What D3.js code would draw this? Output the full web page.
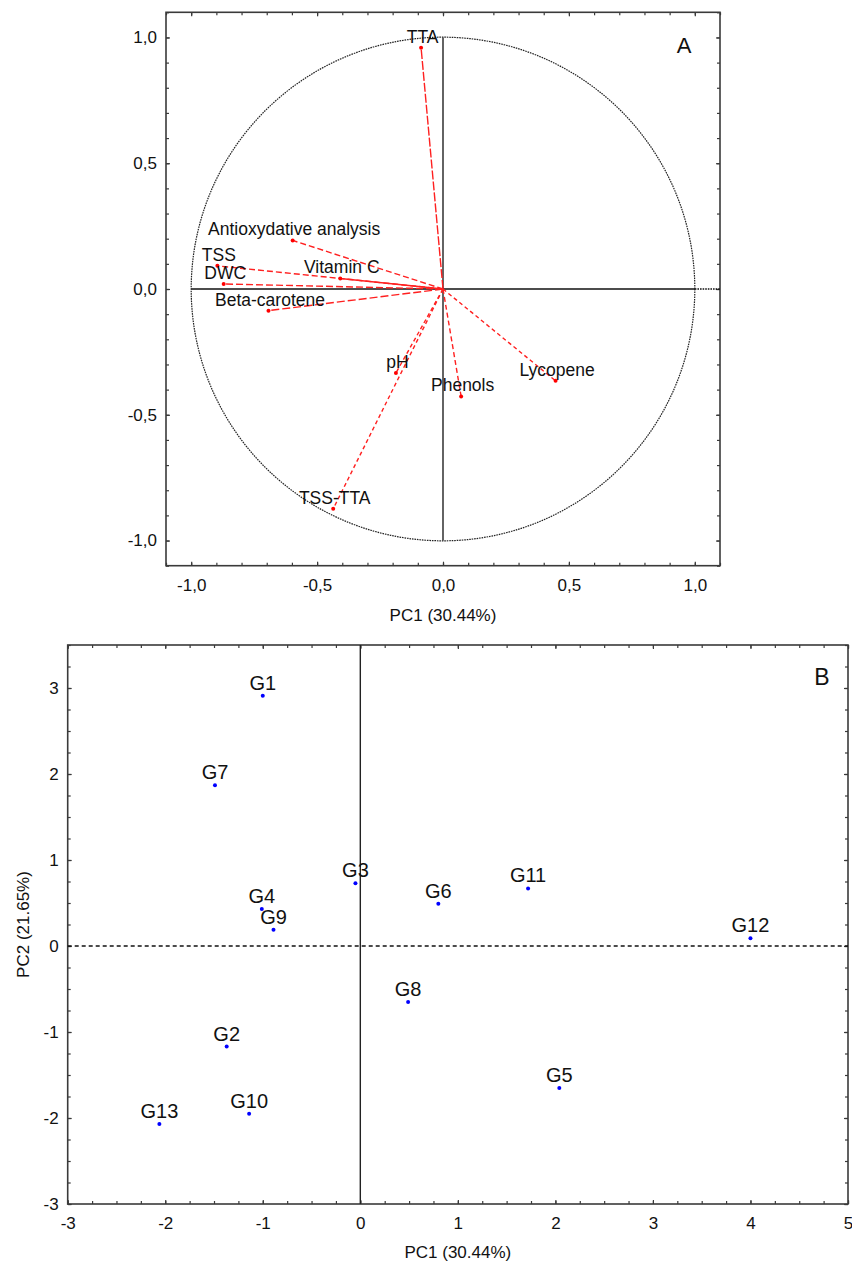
<!DOCTYPE html>
<html><head><meta charset="utf-8">
<script src="https://cdn.jsdelivr.net/npm/d3@7"></script>
<style>
body{margin:0;background:#fff}
text{font-family:"Liberation Sans",Arial,sans-serif;fill:#111}
</style>
</head><body>
<svg id="c" width="852" height="1264"></svg>
<script>
// ---------- DATA ----------
// Panel A: variable loadings
const varNames = ["TTA","Antioxydative analysis","TSS","DWC","Vitamin C","Beta-carotene","pH","Phenols","Lycopene","TSS-TTA"];
const pc1Load  = [-0.087, -0.597, -0.896, -0.871, -0.408, -0.693, -0.187, 0.072, 0.447, -0.436];
const pc2Load  = [ 0.959,  0.193,  0.092,  0.020,  0.042, -0.086, -0.334, -0.427, -0.365, -0.874];
// Panel B: genotype scores
const genotypes = ["G1","G7","G3","G4","G9","G6","G11","G12","G8","G2","G10","G13","G5"];
const pc1Score  = [-1.00, -1.49, -0.05, -1.01, -0.89, 0.80, 1.72, 4.00, 0.49, -1.37, -1.14, -2.06, 2.04];
const pc2Score  = [ 2.91,  1.87,  0.73,  0.43,  0.19, 0.49, 0.67, 0.09, -0.65, -1.17, -1.95, -2.07, -1.65];
// Ticks / labels
const ticksA = [-1, -0.5, 0, 0.5, 1];
const tickLabelsA = ["-1,0", "-0,5", "0,0", "0,5", "1,0"];
const ticksBx = [-3, -2, -1, 0, 1, 2, 3, 4, 5];
const ticksBy = [-3, -2, -1, 0, 1, 2, 3];
const titlePC1 = "PC1 (30.44%)";
const titlePC2 = "PC2 (21.65%)";
const panelA = "A", panelB = "B";

// ---------- STYLES ----------
const dashStyle = {"TTA":"9,2","Antioxydative analysis":"6,3","TSS":"6,3","DWC":"7,3","Vitamin C":null,
  "Beta-carotene":"8,3","pH":"4,3","Phenols":"5,3","Lycopene":"4,3","TSS-TTA":"4,3"};

const svg = d3.select("#c");
const frameColor = "#3a3a3a";
const plainFmt = d => String(d);

function frameAxes(g, x, y, xTicks, yTicks, xMinor, yMinor, xFmt, yFmt) {
  const [x0, x1] = x.range(), [y0, y1] = y.range();
  const minorLen = 3, majorLen = 4;
  g.append("g").attr("transform", `translate(0,${y0})`)
    .call(d3.axisBottom(x).tickValues(xMinor).tickSize(-minorLen).tickFormat(""))
    .call(a => a.select(".domain").remove());
  g.append("g").attr("transform", `translate(0,${y1})`)
    .call(d3.axisTop(x).tickValues(xMinor).tickSize(-minorLen).tickFormat(""))
    .call(a => a.select(".domain").remove());
  g.append("g").attr("transform", `translate(${x0},0)`)
    .call(d3.axisLeft(y).tickValues(yMinor).tickSize(-minorLen).tickFormat(""))
    .call(a => a.select(".domain").remove());
  g.append("g").attr("transform", `translate(${x1},0)`)
    .call(d3.axisRight(y).tickValues(yMinor).tickSize(-minorLen).tickFormat(""))
    .call(a => a.select(".domain").remove());
  g.append("g").attr("transform", `translate(0,${y0})`)
    .call(d3.axisBottom(x).tickValues(xTicks).tickSize(-majorLen).tickPadding(13).tickFormat(xFmt))
    .call(a => a.select(".domain").remove())
    .call(a => a.selectAll("text").style("font-size", "17px").attr("fill", "#111"));
  g.append("g").attr("transform", `translate(${x0},0)`)
    .call(d3.axisLeft(y).tickValues(yTicks).tickSize(-majorLen).tickPadding(9).tickFormat(yFmt))
    .call(a => a.select(".domain").remove())
    .call(a => a.selectAll("text").style("font-size", "17px").attr("fill", "#111"));
  g.append("g").attr("transform", `translate(0,${y1})`)
    .call(d3.axisTop(x).tickValues(xTicks).tickSize(-majorLen).tickFormat(""))
    .call(a => a.select(".domain").remove());
  g.append("g").attr("transform", `translate(${x1},0)`)
    .call(d3.axisRight(y).tickValues(yTicks).tickSize(-majorLen).tickFormat(""))
    .call(a => a.select(".domain").remove());
  g.selectAll(".tick line").attr("stroke", frameColor).attr("stroke-width", 1.2);
  g.append("rect").attr("x", x0).attr("y", y1).attr("width", x1 - x0).attr("height", y0 - y1)
    .attr("fill", "none").attr("stroke", frameColor).attr("stroke-width", 1.6);
}

// ---------- PANEL A ----------
const xA = d3.scaleLinear().domain([-1.1, 1.1]).range([166, 720]);
const yA = d3.scaleLinear().domain([-1.1, 1.1]).range([565.7, 12.3]);
const gA = svg.append("g");
const minorA = d3.range(-11, 12).map(d => d / 10);
frameAxes(gA, xA, yA, ticksA, ticksA, minorA, minorA,
  (d) => tickLabelsA[ticksA.indexOf(d)], (d) => tickLabelsA[ticksA.indexOf(d)]);

const rPx = xA(1) - xA(0);
gA.append("circle").attr("cx", xA(0)).attr("cy", yA(0)).attr("r", rPx)
  .attr("fill", "none").attr("stroke", "#222").attr("stroke-width", 1.2).attr("stroke-dasharray", "1.6,0.9");
gA.append("line").attr("x1", xA(-1)).attr("x2", xA(1)).attr("y1", yA(0)).attr("y2", yA(0))
  .attr("stroke", "#111").attr("stroke-width", 1.4);
gA.append("line").attr("x1", xA(1)).attr("x2", xA(1.1)).attr("y1", yA(0)).attr("y2", yA(0))
  .attr("stroke", "#111").attr("stroke-width", 1.3).attr("stroke-dasharray", "1.6,1");
gA.append("line").attr("x1", xA(0)).attr("x2", xA(0)).attr("y1", yA(-1)).attr("y2", yA(1))
  .attr("stroke", "#222").attr("stroke-width", 1.4);

const loadData = varNames.map((n, i) => ({name: n, x: pc1Load[i], y: pc2Load[i]}));
gA.selectAll("line.vec").data(loadData).join("line").attr("class", "vec")
  .attr("x1", xA(0)).attr("y1", yA(0)).attr("x2", d => xA(d.x)).attr("y2", d => yA(d.y))
  .attr("stroke", "#ff2020").attr("stroke-width", 1.4)
  .attr("stroke-dasharray", d => dashStyle[d.name]);
gA.selectAll("circle.pt").data(loadData).join("circle").attr("class", "pt")
  .attr("cx", d => xA(d.x)).attr("cy", d => yA(d.y)).attr("r", 2).attr("fill", "#ff0000");
gA.selectAll("text.lab").data(loadData).join("text").attr("class", "lab")
  .attr("x", d => xA(d.x) + 1.5).attr("y", d => yA(d.y) - 5)
  .attr("text-anchor", "middle").style("font-size", "17.5px").text(d => d.name);

gA.append("text").attr("x", 684).attr("y", 53).attr("text-anchor", "middle")
  .style("font-size", "22px").text(panelA);
gA.append("text").attr("x", (xA.range()[0] + xA.range()[1]) / 2).attr("y", 621)
  .attr("text-anchor", "middle").style("font-size", "17px").text(titlePC1);

// ---------- PANEL B ----------
const xB = d3.scaleLinear().domain([-3, 5]).range([67.7, 848]);
const yB = d3.scaleLinear().domain([-3, 3.5]).range([1204, 645]);
const gB = svg.append("g");
frameAxes(gB, xB, yB, ticksBx, ticksBy, d3.range(-12, 21).map(d => d / 4), d3.range(-12, 15).map(d => d / 4),
  plainFmt, plainFmt);

gB.append("line").attr("x1", xB(-3)).attr("x2", xB(5)).attr("y1", yB(0)).attr("y2", yB(0))
  .attr("stroke", "#111").attr("stroke-width", 1.3).attr("stroke-dasharray", "4,3");
gB.append("line").attr("x1", xB(0)).attr("x2", xB(0)).attr("y1", yB(-3)).attr("y2", yB(3.5))
  .attr("stroke", "#222").attr("stroke-width", 1.4);

const scoreData = genotypes.map((n, i) => ({name: n, x: pc1Score[i], y: pc2Score[i]}));
gB.selectAll("circle.pt").data(scoreData).join("circle").attr("class", "pt")
  .attr("cx", d => xB(d.x)).attr("cy", d => yB(d.y)).attr("r", 2).attr("fill", "#0000ff");
gB.selectAll("text.lab").data(scoreData).join("text").attr("class", "lab")
  .attr("x", d => xB(d.x)).attr("y", d => yB(d.y) - 6)
  .attr("text-anchor", "middle").style("font-size", "20px").text(d => d.name);

gB.append("text").attr("x", 822).attr("y", 685).attr("text-anchor", "middle")
  .style("font-size", "23px").text(panelB);
gB.append("text").attr("x", (xB.range()[0] + xB.range()[1]) / 2).attr("y", 1258)
  .attr("text-anchor", "middle").style("font-size", "17px").text(titlePC1);
gB.append("text").attr("transform", `translate(29,${(yB.range()[0] + yB.range()[1]) / 2}) rotate(-90)`)
  .attr("text-anchor", "middle").style("font-size", "17px").text(titlePC2);
</script>
</body></html>
